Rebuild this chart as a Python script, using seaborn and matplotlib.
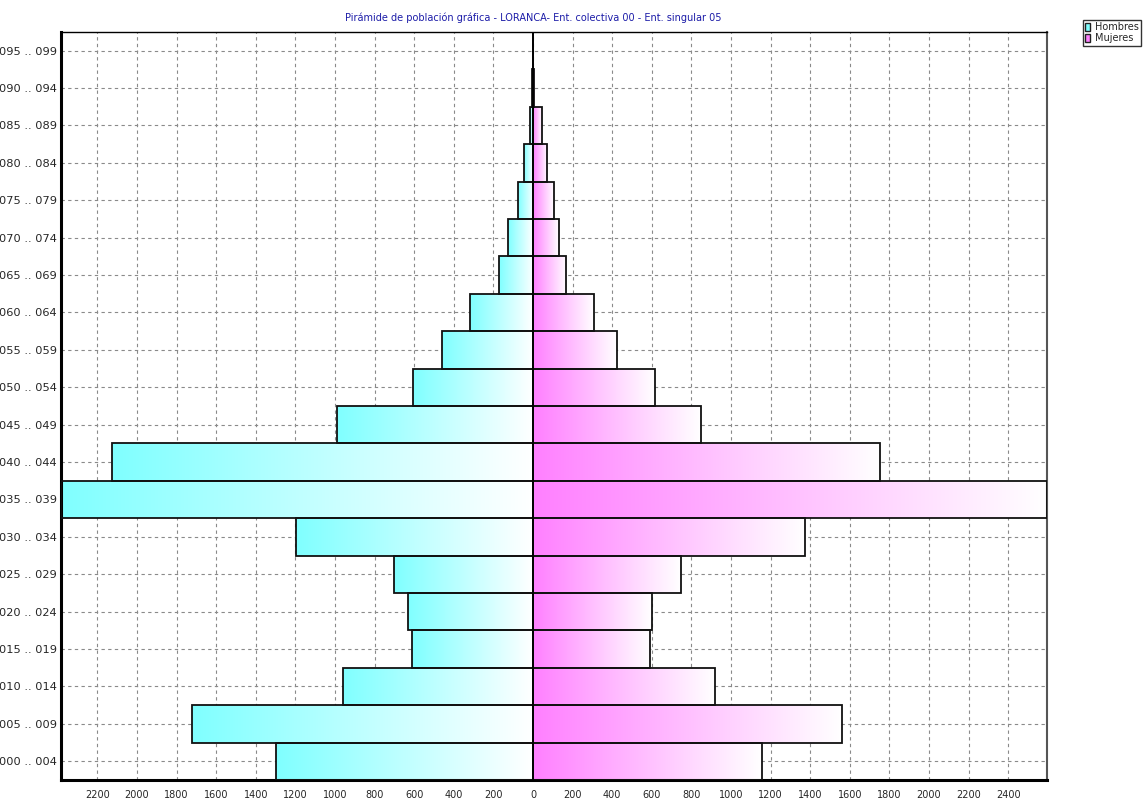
import numpy as np
import pandas as pd
import matplotlib
matplotlib.use("Agg")
import matplotlib.pyplot as plt
from matplotlib.patches import Patch
from matplotlib.ticker import MultipleLocator, FuncFormatter
import seaborn as sns

# Age groups, bottom to top
ages = ["000 .. 004", "005 .. 009", "010 .. 014", "015 .. 019", "020 .. 024",
        "025 .. 029", "030 .. 034", "035 .. 039", "040 .. 044", "045 .. 049",
        "050 .. 054", "055 .. 059", "060 .. 064", "065 .. 069", "070 .. 074",
        "075 .. 079", "080 .. 084", "085 .. 089", "090 .. 094", "095 .. 099"]
hombres = [1298, 1720, 958, 611, 631, 702, 1197, 2384, 2126, 990,
           606, 460, 318, 172, 126, 76, 45, 15, 6, 0]
mujeres = [1156, 1560, 919, 591, 601, 747, 1374, 2596, 1752, 848,
           616, 424, 308, 167, 131, 106, 71, 45, 6, 0]

title = "Pirámide de población gráfica - LORANCA- Ent. colectiva 00 - Ent. singular 05"
men_color = "#80ffff"
women_color = "#ff80ff"

df = pd.DataFrame({
    "edad": ages * 2,
    "sexo": ["Hombres"] * len(ages) + ["Mujeres"] * len(ages),
    "valor": [-v for v in hombres] + mujeres,
})

sns.set_style("white")
plt.rcParams["font.family"] = ["DejaVu Sans"]

fig = plt.figure(figsize=(11.44, 8), dpi=100)
ax = fig.add_axes([61 / 1144, 1 - 780 / 800, (1047 - 61) / 1144, (780 - 32) / 800])

sns.barplot(data=df, y="edad", x="valor", hue="sexo", order=ages[::-1],
            orient="h", dodge=False, width=1.0, legend=False, saturation=1,
            palette={"Hombres": men_color, "Mujeres": women_color},
            edgecolor="#111111", linewidth=1.3, ax=ax, zorder=3)

# gradient fill: colour at left end fading to white at right end
white = np.array([1.0, 1.0, 1.0])
for patch in list(ax.patches):
    bb = patch.get_bbox()
    x0, x1 = sorted([bb.x0, bb.x1])
    y0, y1 = sorted([bb.y0, bb.y1])
    if x1 - x0 <= 0:
        continue
    col = np.array(matplotlib.colors.to_rgb(patch.get_facecolor()))
    t = np.linspace(0, 1, 256)[:, None]
    grad = (col * (1 - t) + white * t)[None, :, :]
    im = ax.imshow(grad, extent=(x0, x1, y1, y0), aspect="auto",
                   zorder=2, interpolation="bilinear")
    im.set_clip_path(patch)
    patch.set_facecolor("none")

ax.set_xlim(-max(hombres), max(mujeres))
ax.set_ylim(len(ages) - 0.5, -0.5)
ax.axvline(0, color="black", lw=1.2, zorder=4)

ax.xaxis.set_major_locator(MultipleLocator(200))
ax.xaxis.set_minor_locator(MultipleLocator(50))
ax.xaxis.set_major_formatter(FuncFormatter(lambda v, p: f"{abs(int(round(v)))}"))
ax.tick_params(axis="x", which="major", length=5, width=0.8, labelsize=7, pad=2, color="#333333")
ax.tick_params(axis="x", which="minor", length=3, width=0.6, color="#333333")
ax.tick_params(axis="y", length=2, width=0.8, labelsize=8.2, pad=1)
ax.set_xlabel("")
ax.set_ylabel("")

ax.grid(True, which="major", color="#8a8a8a", linestyle=(0, (3, 3)), linewidth=0.8, zorder=0)
ax.set_axisbelow(True)

for side, lw, c in [("left", 2.2, "black"), ("bottom", 2.2, "black"),
                    ("top", 1.0, "black"), ("right", 1.5, "#555555")]:
    ax.spines[side].set_visible(True)
    ax.spines[side].set_linewidth(lw)
    ax.spines[side].set_color(c)

fig.text(533 / 1144, 1 - 18 / 800, title, ha="center", va="center",
         fontsize=7, color="#1c1ca8")

handles = [Patch(facecolor=men_color, edgecolor="#222222", label="Hombres"),
           Patch(facecolor=women_color, edgecolor="#222222", label="Mujeres")]
fig.legend(handles=handles, loc="upper right", bbox_to_anchor=(1141 / 1144, 1 - 20 / 800),
           fontsize=7, frameon=True, fancybox=False, edgecolor="black",
           handlelength=0.5, handleheight=1.0, handletextpad=0.5,
           borderpad=0.25, labelspacing=0.1, borderaxespad=0)

fig.savefig("out.png", dpi=100)
